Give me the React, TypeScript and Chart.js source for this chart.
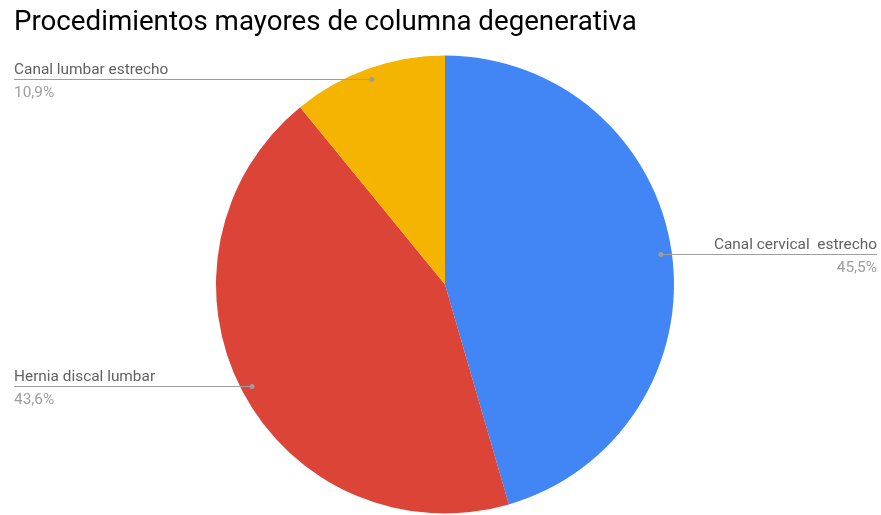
import React, { useEffect, useRef } from "react";
import { Chart, registerables } from "chart.js";

Chart.register(...registerables);

const title = "Procedimientos mayores de columna degenerativa";
const categories = ["Canal cervical  estrecho", "Hernia discal lumbar", "Canal lumbar estrecho"];
const values = [45.5, 43.6, 10.9];
const colors = ["#4285F4", "#DB4437", "#F4B400"];

const labelPlugin = {
  id: "gLabels",
  afterDraw(chart: any) {
    const ctx = chart.ctx as CanvasRenderingContext2D;
    const W = chart.width;
    ctx.save();
    // title
    ctx.fillStyle = "#000000";
    ctx.font = "27.7px Roboto";
    ctx.textAlign = "left";
    ctx.textBaseline = "alphabetic";
    ctx.fillText(title, 14, 30);

    const meta = chart.getDatasetMeta(0);
    const data = chart.data.datasets[0].data as number[];
    const total = data.reduce((a: number, b: number) => a + b, 0);
    meta.data.forEach((arc: any, i: number) => {
      const p = arc.getProps(["x", "y", "startAngle", "endAngle", "outerRadius"], true);
      const mid = (p.startAngle + p.endAngle) / 2;
      const d = p.outerRadius * 0.952;
      const dx = p.x + Math.cos(mid) * d;
      const dy = p.y + Math.sin(mid) * d;
      const right = dx > p.x;
      const edge = right ? W - 4 : 14;
      const ly = Math.round(dy) + 0.5;
      ctx.strokeStyle = "#9e9e9e";
      ctx.lineWidth = 1;
      ctx.beginPath();
      ctx.moveTo(dx, ly);
      ctx.lineTo(edge, ly);
      ctx.stroke();
      ctx.fillStyle = "#9e9e9e";
      ctx.beginPath();
      ctx.arc(dx, ly, 2.5, 0, Math.PI * 2);
      ctx.fill();
      ctx.font = "15.4px Roboto";
      ctx.textAlign = right ? "right" : "left";
      ctx.fillStyle = "#616161";
      ctx.fillText(chart.data.labels[i], edge, Math.round(dy) - 5);
      ctx.fillStyle = "#9e9e9e";
      const pct = ((data[i] / total) * 100).toFixed(1).replace(".", ",") + "%";
      ctx.fillText(pct, edge, Math.round(dy) + 18);
    });
    ctx.restore();
  },
};

export default function App() {
  const ref = useRef<HTMLCanvasElement>(null);
  useEffect(() => {
    if (!ref.current) return;
    const chart = new Chart(ref.current, {
      type: "pie",
      data: {
        labels: categories,
        datasets: [
          {
            data: values,
            backgroundColor: colors,
            borderWidth: 0,
            hoverOffset: 0,
          },
        ],
      },
      options: {
        responsive: false,
        animation: false,
        events: [],
        radius: 229,
        layout: { padding: { left: 216, right: 207, top: 55.5, bottom: 1.5 } },
        plugins: {
          legend: { display: false },
          tooltip: { enabled: false },
          title: { display: false },
        },
      } as any,
      plugins: [labelPlugin],
    });
    return () => chart.destroy();
  }, []);
  return (
    <div style={{ position: "fixed", left: 0, top: 0, width: 881, height: 515, background: "#fff" }}>
      <canvas ref={ref} width={881} height={515} />
    </div>
  );
}
